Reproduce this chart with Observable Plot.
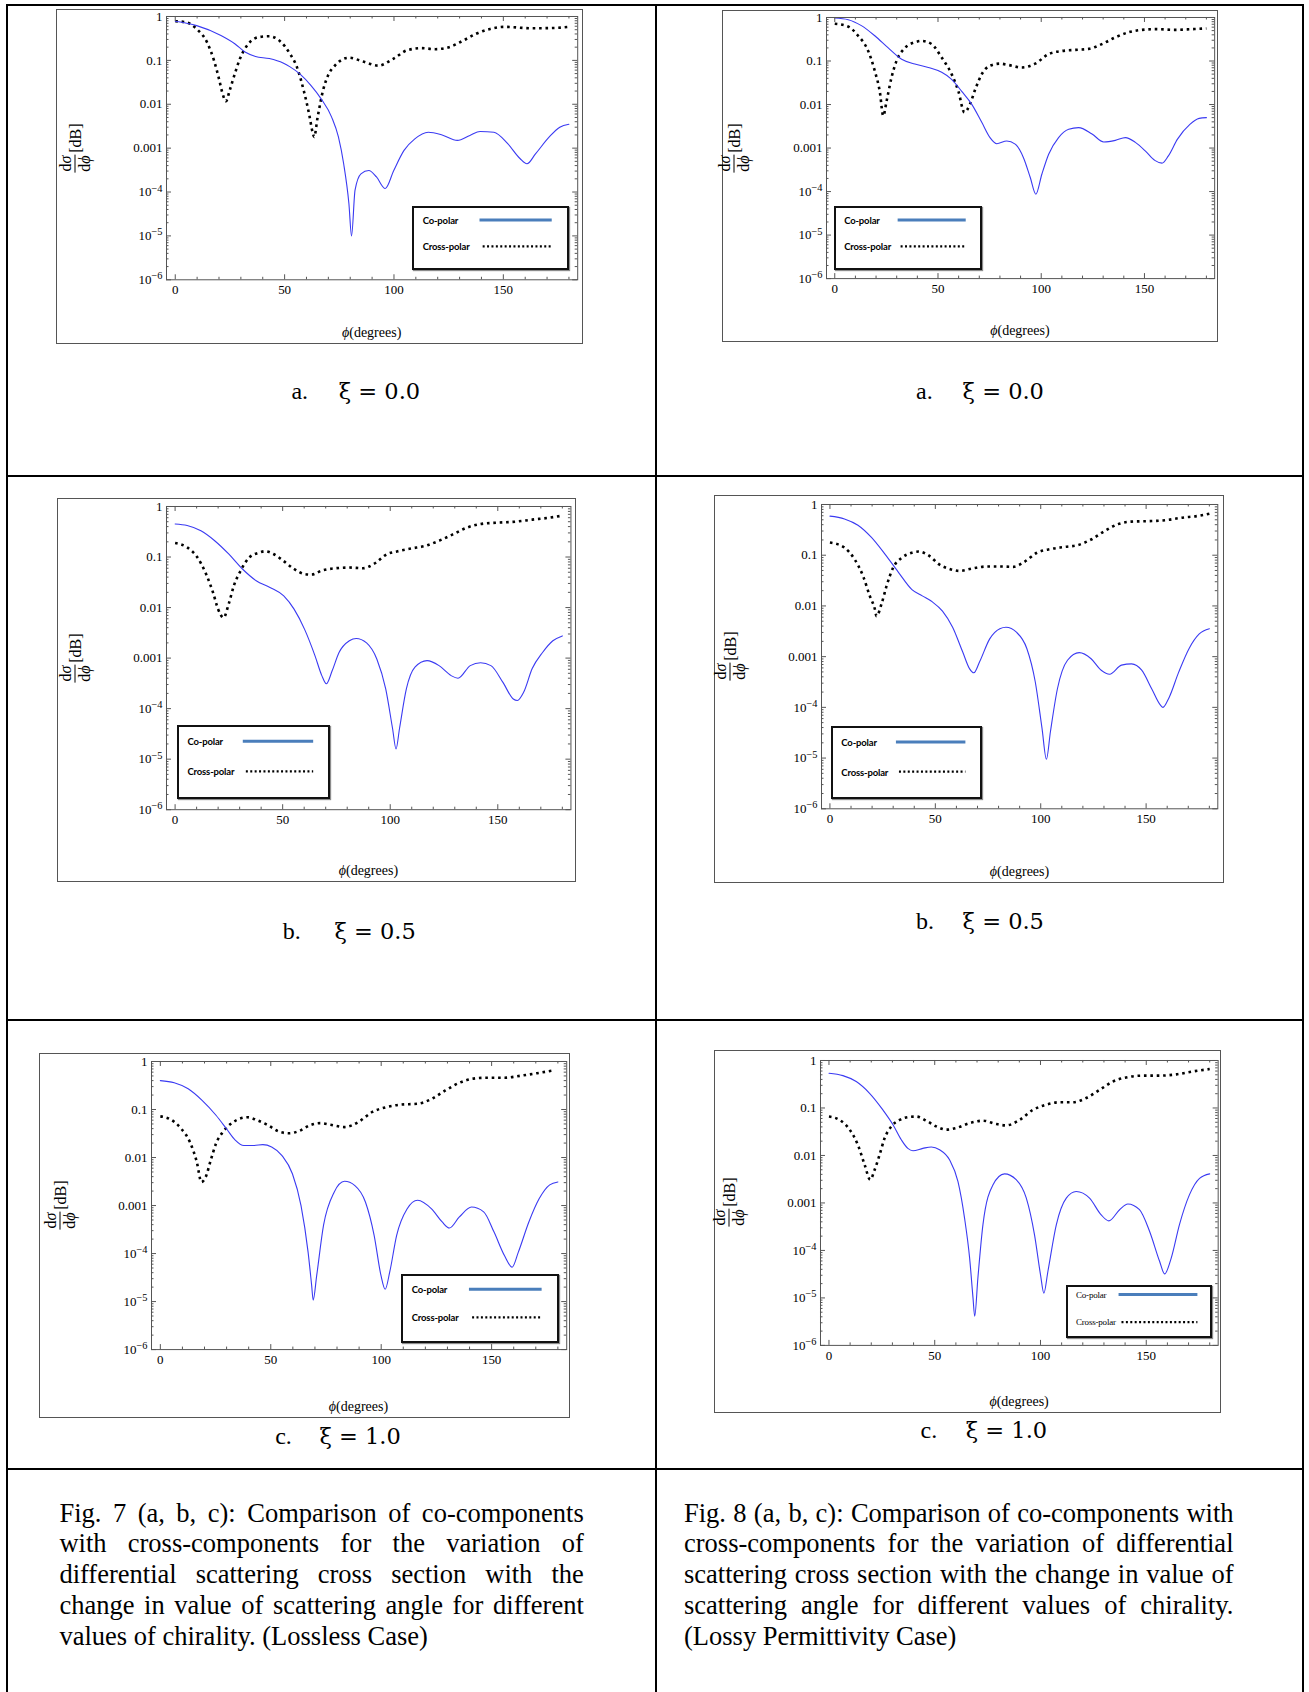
<!DOCTYPE html>
<html><head><meta charset="utf-8">
<script src="https://cdn.jsdelivr.net/npm/d3@7"></script>
<script src="https://cdn.jsdelivr.net/npm/@observablehq/plot@0.6"></script>
<style>
body{margin:0;background:#fff;}
#page{position:relative;width:1309px;height:1692px;overflow:hidden;background:#fff;font-family:"Liberation Serif","Times New Roman",serif;color:#000;}
.rule{position:absolute;background:#000;}
.box{position:absolute;border:1px solid #555;box-sizing:border-box;}
.ylab{position:absolute;display:flex;align-items:center;white-space:nowrap;font:16px "Liberation Serif",serif;transform:translate(-50%,-50%) rotate(-90deg);}
.frac{display:inline-flex;flex-direction:column;align-items:center;line-height:1.0;}
.num{border-bottom:1.2px solid #000;padding:0 1px 1px;}
.den{padding-top:1px;}
.db{margin-left:2px;}
.xlab{position:absolute;font:14px "Liberation Serif",serif;transform:translate(-50%,-50%);white-space:nowrap;}
.legend{position:absolute;border:2px solid #111;box-sizing:border-box;background:#fff;box-shadow:1px 1px 1px rgba(0,0,0,0.45);}
.legend .lt{position:absolute;transform:translateY(-50%);white-space:nowrap;}
.legend svg{position:absolute;left:0;top:0;overflow:visible;}
.sub{position:absolute;white-space:nowrap;line-height:30px;}
.capline{position:absolute;white-space:nowrap;font-family:"Liberation Serif",serif;font-size:26.5px;line-height:30.75px;}
</style></head>
<body><div id="page"></div>
<script>
// ---------- data ----------
const xMajorTicks = [0, 50, 100, 150];
const xMinorTicks = [10, 20, 30, 40, 60, 70, 80, 90, 110, 120, 130, 140, 160, 170, 180];
const yMajorTicks = [1, 0.1, 0.01, 0.001, 1e-4, 1e-5, 1e-6];
const yTickLabels = ["1", "0.1", "0.01", "0.001", "10^\u22124", "10^\u22125", "10^\u22126"];
const seriesNames = ["Co-polar", "Cross-polar"];

// Fig. 7a (lossless, xi = 0.0)
const phiCo7a = [0,9.8,20.9,27.2,31.9,36.7,43,49.3,52.5,57.2,62,66.7,71.5,74.6,77,79.4,80.6,82.2,84.9,88.5,92,96,99.9,104.6,109.4,115.7,122,129,134.7,139.4,145.7,152,157.6,160.8,164.7,171,175.8,180];
const co7a = [0.78,0.62,0.37,0.24,0.155,0.123,0.11,0.087,0.071,0.048,0.027,0.0133,0.0051,0.0018,4.4e-4,5.4e-5,1.0e-5,1.1e-4,2.6e-4,3.1e-4,2.2e-4,1.2e-4,3.1e-4,8.9e-4,1.6e-3,2.3e-3,2.0e-3,1.5e-3,1.95e-3,2.4e-3,2.3e-3,1.26e-3,5.8e-4,4.4e-4,7.4e-4,1.8e-3,3.0e-3,3.5e-3];
const phiCross7a = [0,5,9.8,14.5,17.7,20,21.7,23.2,24.8,27.2,29.6,33.5,38.3,43,47.7,52.5,55.6,58.8,61.2,62.8,63.5,65.1,67.5,69.9,73,79.4,85.7,92.8,99.9,106,112.6,118.9,125.2,131.5,137.8,144,150.5,163,174,180];
const cross7a = [0.78,0.74,0.52,0.26,0.1,0.038,0.017,0.0117,0.020,0.049,0.11,0.24,0.34,0.355,0.28,0.14,0.071,0.020,0.006,0.0023,0.0018,0.0051,0.020,0.046,0.076,0.115,0.095,0.076,0.11,0.17,0.19,0.18,0.20,0.28,0.41,0.52,0.58,0.54,0.55,0.58];

// Fig. 8a (lossy, xi = 0.0)
const phiCo8a = [0,6.5,12.9,19.4,25.9,32.4,38.8,45.3,51.8,56.6,61.5,66.3,71.2,75.2,78.5,83.3,87.4,91.4,94.7,97.4,100.3,103.6,108.4,113.3,118.1,124.6,130.3,135.9,140.8,145.6,150.5,155,158.5,161.5,166,172,176.5,180];
const co8a = [0.97,0.89,0.65,0.38,0.20,0.11,0.085,0.071,0.055,0.038,0.020,0.0102,0.0039,0.00174,0.00126,0.00145,0.00123,6.0e-4,2.1e-4,8.7e-5,2.5e-4,7.2e-4,1.74e-3,2.7e-3,2.95e-3,2.1e-3,1.38e-3,1.5e-3,1.74e-3,1.35e-3,8.5e-4,5.2e-4,4.5e-4,6.5e-4,1.6e-3,3.5e-3,4.8e-3,5.0e-3];
const phiCross8a = [0,6.5,11.3,16.2,19.4,21.8,23.5,25.1,27.5,29.9,34,38.8,42.1,46.9,51.8,56.6,59.9,62.8,65.5,68,71.2,75.2,80.1,84.1,90.6,97.1,103.6,110,116.5,123,129.4,135.9,142.4,147.2,155.3,165,173,180];
const cross8a = [0.72,0.62,0.38,0.17,0.059,0.020,0.0055,0.012,0.042,0.10,0.20,0.27,0.29,0.245,0.12,0.050,0.020,0.0066,0.0102,0.022,0.050,0.078,0.087,0.081,0.071,0.087,0.145,0.17,0.18,0.19,0.245,0.35,0.46,0.51,0.54,0.52,0.54,0.56];

// Fig. 7b (lossless, xi = 0.5)
const phiCo7b = [0,5.6,12,18.4,24.9,31.3,37.7,44.1,50.5,55.3,60.2,65,68.2,70.3,73,76.2,81,84.2,89,93.8,97.9,101.1,102.7,104.3,107.5,111.5,117.1,122.7,128.3,131.5,137.2,142,146.8,152.4,157.2,159.1,162,166,170.8,175.6,180];
const co7b = [0.45,0.42,0.33,0.21,0.115,0.058,0.034,0.025,0.017,0.0093,0.0037,0.00112,4.5e-4,3.1e-4,5.6e-4,1.29e-3,2.2e-3,2.45e-3,2.0e-3,9.5e-4,2.45e-4,4.0e-5,1.6e-5,4.0e-5,2.45e-4,6.6e-4,8.9e-4,7.1e-4,4.5e-4,4.0e-4,7.1e-4,8.1e-4,7.1e-4,3.3e-4,1.55e-4,1.45e-4,2.1e-4,6.2e-4,1.29e-3,2.2e-3,2.75e-3];
const phiCross7b = [0,5.6,10.4,14.4,17.6,20,22.5,24.9,27.3,30.5,34.5,39.3,41.7,45.7,50.5,55.3,60.2,63.4,68.2,74.6,81,87.4,92.2,98.7,103.5,109.9,116.3,122.7,129.1,135.5,142,150,158,166,174,180];
const cross7b = [0.19,0.155,0.098,0.046,0.020,0.0093,0.0063,0.0117,0.027,0.054,0.098,0.123,0.13,0.115,0.083,0.058,0.046,0.045,0.054,0.060,0.062,0.060,0.072,0.115,0.13,0.148,0.166,0.21,0.28,0.38,0.45,0.48,0.50,0.55,0.60,0.66];

// Fig. 8b (lossy, xi = 0.5)
const phiCo8b = [0,6.9,13.3,19.7,26.1,32.5,38.9,43.8,48.6,53.4,58.2,63,66.2,68.3,71,75.8,80.6,83.5,88.6,93.4,97.4,100.6,102.7,104.6,107.9,112.7,118.3,123.9,128.7,132.7,138.3,143.1,147.9,152.7,156.7,158,160.7,165.5,170.4,175.2,180];
const co8b = [0.59,0.52,0.39,0.224,0.105,0.046,0.021,0.0158,0.012,0.0079,0.0038,0.00123,5.8e-4,4.8e-4,7.9e-4,2.24e-3,3.55e-3,3.8e-3,3.0e-3,1.45e-3,3.2e-4,3.9e-5,9.5e-6,3.3e-5,2.3e-4,8.5e-4,1.2e-3,9.1e-4,5.4e-4,4.5e-4,6.8e-4,7.2e-4,5.4e-4,2.3e-4,1.12e-4,1.0e-4,1.5e-4,5.0e-4,1.45e-3,2.8e-3,3.55e-3];
const phiCross8b = [0,6.9,11.7,15.7,18.9,21.3,22.1,24.5,26.9,30.1,34.1,38.9,42.1,47,51.8,56.6,61.4,67.8,74.2,80.6,87,91.8,98.2,104.6,111,117.5,123.9,130.3,136.7,143.1,151.1,159.1,167.1,175.2,180];
const cross8b = [0.178,0.141,0.083,0.039,0.0158,0.0087,0.0063,0.011,0.025,0.058,0.089,0.112,0.118,0.098,0.066,0.054,0.049,0.055,0.060,0.060,0.059,0.072,0.112,0.132,0.145,0.158,0.204,0.30,0.41,0.46,0.47,0.49,0.55,0.60,0.66];

// Fig. 7c (lossless, xi = 1.0)
const phiCo7c = [0,6.3,12.6,18.9,25.2,29.9,33.8,37.8,42.5,46.4,50.4,55.1,59.8,63.7,66.9,68.5,69.2,70.8,73.9,78.7,83.4,88.1,92.9,96.8,99.9,101.8,103.9,107,111.7,116.5,122.8,127.5,130.9,135.4,140.9,146.4,151.1,155.8,159.3,162.1,166.9,171.5,176.3,180];
const co7c = [0.40,0.36,0.27,0.155,0.076,0.040,0.0234,0.0178,0.0178,0.0186,0.0166,0.011,0.0046,0.001,1.07e-4,2.2e-5,1.07e-5,3.5e-5,3.9e-4,1.9e-3,3.2e-3,2.6e-3,1.17e-3,2.4e-4,3.5e-5,1.8e-5,4.2e-5,2.4e-4,8.5e-4,1.29e-3,8.5e-4,4.6e-4,3.4e-4,5.8e-4,9.3e-4,7.4e-4,2.8e-4,9.1e-5,5.2e-5,1.07e-4,4.6e-4,1.38e-3,2.7e-3,3.1e-3];
const phiCross7c = [0,4.7,9.4,13.4,16.5,18.6,20.5,22.8,25.2,28.3,32.3,36.2,39.3,44.1,48.8,53.5,58.2,63,67.7,72.4,77.1,83.4,89.7,96,102.3,108.6,116.5,122.8,129.1,135.4,141.6,147.9,155.8,163.7,171.5,178];
const cross7c = [0.072,0.062,0.040,0.021,0.0081,0.0031,0.0039,0.0087,0.0195,0.034,0.052,0.065,0.069,0.059,0.047,0.035,0.032,0.036,0.047,0.052,0.048,0.043,0.055,0.089,0.112,0.126,0.132,0.166,0.25,0.36,0.44,0.46,0.46,0.51,0.58,0.65];

// Fig. 8c (lossy, xi = 1.0)
const phiCo8c = [0,6.6,12.9,19.2,25.5,30.2,34.2,37.3,39.7,44.4,48.4,52.3,57,61,64.1,66.5,68.1,68.9,70.4,72.8,77.5,83,88.5,93.3,97.2,100,101.6,103.5,107.5,112.2,116.9,123.2,128.7,132.3,137.4,141.3,146.8,151.6,156.3,158.7,161.8,165.7,170.4,175.2,180];
const co8c = [0.54,0.48,0.36,0.204,0.091,0.045,0.0214,0.0141,0.0126,0.0141,0.0151,0.0132,0.0081,0.0028,4.8e-4,6.9e-5,1.0e-5,4.1e-6,2.6e-5,3.5e-4,2.4e-3,4.1e-3,3.1e-3,1.26e-3,2.1e-4,3.1e-5,1.26e-5,3.6e-5,3.5e-4,1.26e-3,1.74e-3,1.26e-3,5.6e-4,4.2e-4,7.2e-4,9.5e-4,7.2e-4,2.5e-4,5.9e-5,3.2e-5,6.9e-5,3.5e-4,1.48e-3,3.3e-3,4.1e-3];
const phiCross8c = [0,5,9.8,13.7,16.9,19.5,21.6,23.9,26.3,29.5,33.4,38.1,41.3,46,50.7,55.5,60.2,66.5,72.8,79.1,83.8,90.1,96.4,102.7,109,115.3,121.6,127.9,134.2,140.5,148.4,156.3,164.2,172.1,180];
const cross8c = [0.066,0.056,0.035,0.0166,0.0063,0.0031,0.005,0.0102,0.023,0.041,0.056,0.065,0.066,0.054,0.041,0.035,0.038,0.048,0.054,0.046,0.043,0.056,0.091,0.117,0.132,0.132,0.162,0.24,0.36,0.44,0.48,0.48,0.51,0.59,0.66];

const subLetters = ["a.", "a.", "b.", "b.", "c.", "c."];
const subValues = ["\u03BE = 0.0", "\u03BE = 0.0", "\u03BE = 0.5", "\u03BE = 0.5", "\u03BE = 1.0", "\u03BE = 1.0"];
const captionLeft = [
  "Fig. 7 (a, b, c): Comparison of co-components",
  "with cross-components for the variation of",
  "differential scattering cross section with the",
  "change in value of scattering angle for different",
  "values of chirality. (Lossless Case)"
];
const captionRight = [
  "Fig. 8 (a, b, c): Comparison of co-components with",
  "cross-components for the variation of differential",
  "scattering cross section with the change in value of",
  "scattering angle for different values of chirality.",
  "(Lossy Permittivity Case)"
];

// ---------- layout (page pixels) ----------
const xDomain = [-4, 184];
const panels = [
  {co:[phiCo7a,co7a], cr:[phiCross7a,cross7a], box:[56,9,583,344], x0:174.8, x150:502.9, y1:16.2, y6:279.5, xlabY:333.4, capL:291.4, capXi:338.8, capY:392.8, leg:[412,206,569,270], legTimes:false},
  {co:[phiCo8a,co8a], cr:[phiCross8a,cross8a], box:[722,9.7,1218,342], x0:834.1, x150:1143.8, y1:17.3, y6:278.4, xlabY:331.3, capL:916, capXi:962.6, capY:392.8, leg:[834,206,982,270], legTimes:false},
  {co:[phiCo7b,co7b], cr:[phiCross7b,cross7b], box:[57.2,497.5,576.2,881.6], x0:174.8, x150:497.5, y1:506.1, y6:809.3, xlabY:870.8, capL:282.7, capXi:334.5, capY:933.4, leg:[177,725,330,798.5], legTimes:false},
  {co:[phiCo8b,co8b], cr:[phiCross8b,cross8b], box:[714.4,495.3,1223.7,882.7], x0:829.8, x150:1146, y1:503.9, y6:808.2, xlabY:871.9, capL:916, capXi:962.6, capY:922.6, leg:[831,726,982,798.5], legTimes:false},
  {co:[phiCo7c,co7c], cr:[phiCross7c,cross7c], box:[38.8,1053.2,569.8,1418], x0:159.7, x150:491, y1:1060.8, y6:1348.9, xlabY:1407.1, capL:275.2, capXi:319.4, capY:1438.4, leg:[401,1274,559,1343], legTimes:false},
  {co:[phiCo8c,co8c], cr:[phiCross8c,cross8c], box:[714.4,1050,1221.5,1412.5], x0:828.7, x150:1146, y1:1059.7, y6:1344.6, xlabY:1401.7, capL:920.5, capXi:965.8, capY:1432, leg:[1066,1285,1212,1338], legTimes:true}
];

const page = document.getElementById("page");
const NS = "http://www.w3.org/2000/svg";
function div(cls, css, html) {
  const d = document.createElement("div");
  if (cls) d.className = cls;
  Object.assign(d.style, css);
  if (html != null) d.innerHTML = html;
  page.appendChild(d);
  return d;
}

// table rules
[[6,4,1298,2],[6,4,2,1688],[654.5,4,2,1688],[1302,4,2,1688],[6,474.5,1298,2],[6,1019,1298,2],[6,1468,1298,2]]
  .forEach(([l,t,w,h]) => div("rule", {left:l+"px", top:t+"px", width:w+"px", height:h+"px"}));

const labelMap = new Map(yMajorTicks.map((v, i) => [v, yTickLabels[i]]));
const yMinorTicks = [];
for (let e = -6; e < 0; e++) for (let m = 2; m <= 9; m++) yMinorTicks.push(+(m * Math.pow(10, e)).toPrecision(3));

panels.forEach((p, idx) => {
  const [bl, bt, br, bb] = p.box;
  div("box", {left:bl+"px", top:bt+"px", width:(br-bl)+"px", height:(bb-bt)+"px"});

  const ppd = (p.x150 - p.x0) / 150;
  const fl = p.x0 + xDomain[0] * ppd, fr = p.x0 + xDomain[1] * ppd;
  const ft = p.y1, fb = p.y6;
  const pw = fr - fl, ph = fb - ft;
  const mL = 70, mR = 8, mT = 8, mB = 30;
  const coData = p.co[0].map((phi, i) => ({phi, v: p.co[1][i], s: seriesNames[0]}));
  const crData = p.cr[0].map((phi, i) => ({phi, v: p.cr[1][i], s: seriesNames[1]}));
  const tickStroke = "#555";
  const svg = Plot.plot({
    width: pw + mL + mR, height: ph + mT + mB,
    marginLeft: mL, marginRight: mR, marginTop: mT, marginBottom: mB,
    x: {domain: xDomain, label: null},
    y: {type: "log", domain: [1e-6, 1], label: null},
    style: {background: "transparent", fontFamily: "'Liberation Serif', serif", fontSize: "13px", color: "#000", overflow: "visible"},
    marks: [
      Plot.line(crData, {x: "phi", y: "v", stroke: "#000", strokeWidth: 2.6, strokeDasharray: "2.6 3.8", strokeLinecap: "butt", curve: "monotone-x"}),
      Plot.line(coData, {x: "phi", y: "v", stroke: "#3a3af2", strokeWidth: 1.1, curve: "monotone-x"}),
      Plot.frame({stroke: tickStroke, strokeWidth: 1}),
      Plot.ruleX(xMajorTicks, {x: d => d, insetTop: ph - 5, stroke: tickStroke}),
      Plot.ruleX(xMajorTicks, {x: d => d, insetBottom: ph - 5, stroke: tickStroke}),
      Plot.ruleX(xMinorTicks, {x: d => d, insetTop: ph - 2.5, stroke: tickStroke}),
      Plot.ruleX(xMinorTicks, {x: d => d, insetBottom: ph - 2.5, stroke: tickStroke}),
      Plot.ruleY(yMajorTicks, {y: d => d, insetRight: pw - 5, stroke: tickStroke}),
      Plot.ruleY(yMajorTicks, {y: d => d, insetLeft: pw - 5, stroke: tickStroke}),
      Plot.ruleY(yMinorTicks, {y: d => d, insetRight: pw - 2.5, stroke: tickStroke}),
      Plot.ruleY(yMinorTicks, {y: d => d, insetLeft: pw - 2.5, stroke: tickStroke}),
      Plot.axisX(xMajorTicks, {anchor: "bottom", tickSize: 0, tickPadding: 5, tickFormat: d => String(d), label: null}),
      Plot.axisY(yMajorTicks, {anchor: "left", tickSize: 0, tickPadding: 4, tickFormat: d => labelMap.get(d), label: null})
    ]
  });
  // superscript exponents on tick labels
  svg.querySelectorAll("text").forEach(t => {
    const m = t.textContent.match(/^10\^(.+)$/);
    if (m) {
      t.textContent = "10";
      const ts = document.createElementNS(NS, "tspan");
      ts.setAttribute("dy", "-0.45em");
      ts.setAttribute("font-size", "0.8em");
      ts.textContent = m[1];
      t.appendChild(ts);
    }
  });
  svg.style.position = "absolute";
  svg.style.left = (fl - mL) + "px";
  svg.style.top = (ft - mT) + "px";
  svg.style.maxWidth = "none";
  page.appendChild(svg);

  // axis titles
  div("ylab", {left: (p.x0 - 100) + "px", top: ((ft + fb) / 2) + "px"},
    '<span class="frac"><span class="num">d<i>\u03C3</i></span><span class="den">d<i>\u03D5</i></span></span><span class="db">[dB]</span>');
  div("xlab", {left: ((fl + fr) / 2) + "px", top: p.xlabY + "px"}, '<i>\u03D5</i>(degrees)');

  // legend
  const [ll, lt, lr, lb] = p.leg;
  const lw = lr - ll, lh = lb - lt;
  const lg = div("legend", {left: ll+"px", top: lt+"px", width: lw+"px", height: lh+"px"});
  const fontCss = p.legTimes ? "9px 'Liberation Serif', serif" : "bold 9.5px Lato, 'Open Sans', sans-serif";
  const r1 = p.legTimes ? 0.18 : 0.22, r2 = p.legTimes ? 0.70 : 0.63;
  const lx1 = p.legTimes ? 0.36 : 0.43, lx2 = p.legTimes ? 0.90 : 0.89;
  [[seriesNames[0], r1], [seriesNames[1], r2]].forEach(([name, r]) => {
    const t = document.createElement("div");
    t.className = "lt";
    t.style.font = fontCss;
    t.style.letterSpacing = p.legTimes ? "-0.2px" : "-0.15px";
    t.style.left = (lw * 0.055) + "px";
    t.style.top = (lh * r - 2) + "px";
    t.textContent = name;
    lg.appendChild(t);
  });
  const ls = document.createElementNS(NS, "svg");
  ls.setAttribute("width", lw); ls.setAttribute("height", lh);
  const mk = (y, x1, stroke, w, dash) => {
    const l = document.createElementNS(NS, "line");
    l.setAttribute("x1", lw * x1 - 2); l.setAttribute("x2", lw * lx2 - 2);
    l.setAttribute("y1", lh * r1 - 2 + y); l.setAttribute("y2", lh * r1 - 2 + y);
    l.setAttribute("stroke", stroke); l.setAttribute("stroke-width", w);
    if (dash) l.setAttribute("stroke-dasharray", dash);
    ls.appendChild(l);
  };
  mk(0, lx1, "#4a7ebb", 3, null);
  mk(lh * (r2 - r1), lx1 + 0.02, "#000", 2.2, "2 2.4");
  lg.appendChild(ls);

  // sub-caption
  div("sub", {left: p.capL + "px", top: (p.capY - 15) + "px", font: "24px 'Liberation Serif', serif"}, subLetters[idx]);
  div("sub", {left: p.capXi + "px", top: (p.capY - 15) + "px", font: "22.5px 'DejaVu Serif', serif"}, subValues[idx]);
});

// figure captions
function captionBlock(lines, left, width) {
  lines.forEach((s, i) => {
    const d = div("capline", {left: left + "px", top: (1513 + i * 30.75 - 15.4) + "px", width: width + "px",
      textAlign: i < lines.length - 1 ? "justify" : "left", textAlignLast: i < lines.length - 1 ? "justify" : "left"});
    d.textContent = s;
  });
}
captionBlock(captionLeft, 59.4, 524.4);
captionBlock(captionRight, 684, 549.5);
</script>
</body></html>
